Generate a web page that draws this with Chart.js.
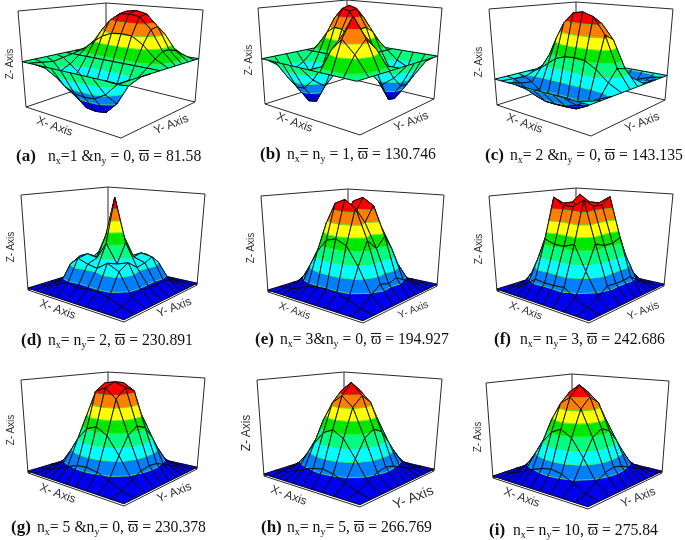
<!DOCTYPE html>
<html><head><meta charset="utf-8">
<script src="https://cdn.jsdelivr.net/npm/chart.js@4"></script>
<style>
html,body{margin:0;padding:0;background:#fff;width:685px;height:540px;overflow:hidden}
#page{position:relative;width:685px;height:540px;overflow:hidden}
canvas{position:absolute;filter:blur(.3px)}
.cap{position:absolute;font-family:"Liberation Serif",serif;font-size:15.7px;color:#111;white-space:nowrap;transform:translateY(-50%);line-height:18px}
.tag{font-weight:bold;font-size:17px}
.cap sub{font-size:10px;line-height:0;vertical-align:-3px}
.bar{position:relative;display:inline-block}
.bar::before{content:"";position:absolute;left:0;right:0;top:3px;height:1px;background:#111}
.ax{position:absolute;font-family:"Liberation Sans",sans-serif;color:#333;white-space:nowrap;transform-origin:center}
</style></head><body><div id="page"></div>
<script>
// grid node positions along both floor edges (0 = front corner)
const gridU=[0,.14,.27,.39,.5,.6,.7,.78,.86,.93,1];
const gridV=[0,.15,.29,.41,.52,.62,.71,.79,.87,.94,1];
// band colours, low to high
const bandColors=['#0000f0','#0080ff','#00ffff','#00ff80','#00e800','#ffff00','#ff8000','#ff0000'];
const contourColor='#40f040';

const zA=[[47,47,47,47,47,47,47,47,47,47,47],
[47,40,35,40,47,54,60,60,57,52,47],
[47,27,14,27,47,67,82,84,75,60,47],
[47,20,2,20,47,75,95,97,85,65,47],
[47,19,0,19,47,76,97,100,87,66,47],
[47,20,1,20,47,75,96,98,86,65,47],
[47,25,9,25,47,70,87,89,79,62,47],
[47,32,21,32,47,63,75,76,69,57,47],
[47,39,34,39,47,55,61,61,58,52,47],
[47,45,43,45,47,49,51,51,50,49,47],
[47,47,47,47,47,47,47,47,47,47,47]];
const zB=[[47,47,47,47,47,47,47,47,47,47,47],
[47,66,79,66,47,31,20,19,26,37,47],
[47,79,100,79,47,21,2,0,12,31,47],
[47,66,79,66,47,31,20,19,26,37,47],
[47,47,47,47,47,47,47,47,47,47,47],
[47,31,21,31,47,63,75,76,69,57,47],
[47,20,2,20,47,75,95,97,85,65,47],
[47,19,0,19,47,76,97,100,87,66,47],
[47,26,12,26,47,69,85,87,77,61,47],
[47,37,31,37,47,57,65,66,61,54,47],
[47,47,47,47,47,47,47,47,47,47,47]];
const zC=[[26,26,26,26,26,26,26,26,26,26,26],
[26,22,20,33,45,42,30,21,20,23,26],
[26,15,10,44,78,71,36,12,10,18,26],
[26,11,4,51,96,87,39,7,4,15,26],
[26,10,3,52,100,90,40,6,3,14,26],
[26,10,4,51,98,88,40,7,4,14,26],
[26,13,8,47,85,77,37,10,8,16,26],
[26,17,13,40,67,61,34,15,13,19,26],
[26,22,20,33,46,43,30,21,20,23,26],
[26,25,24,28,32,31,27,24,24,25,26],
[26,26,26,26,26,26,26,26,26,26,26]];
const zD=[[0,0,0,0,0,0,0,0,0,0,0],
[0,3,8,11,10,9,11,8,3,1,0],
[0,8,30,36,28,30,34,26,8,2,0],
[0,11,36,32,52,34,36,32,10,3,0],
[0,10,28,52,100,56,30,24,8,2,0],
[0,9,30,34,56,36,32,30,8,2,0],
[0,11,34,36,30,32,40,36,10,3,0],
[0,8,26,32,24,30,36,28,8,2,0],
[0,3,8,10,8,8,10,8,3,1,0],
[0,1,2,3,2,2,3,2,1,0,0],
[0,0,0,0,0,0,0,0,0,0,0]];
const zE=[[0,0,0,0,0,0,0,0,0,0,0],
[0,2,11,18,15,18,13,8,3,1,0],
[0,7,36,60,49,60,44,25,10,3,0],
[0,11,55,92,75,92,68,39,16,5,0],
[0,12,60,100,82,100,74,42,17,5,0],
[0,11,57,95,78,95,70,40,16,5,0],
[0,9,43,72,59,72,53,30,12,4,0],
[0,5,27,45,37,45,33,19,8,2,0],
[0,2,12,20,16,20,15,8,3,1,0],
[0,1,4,6,5,6,4,3,1,0,0],
[0,0,0,0,0,0,0,0,0,0,0]];
const zF=[[0,0,0,0,0,0,0,0,0,0,0],
[0,3,9,16,15,15,16,10,4,1,0],
[0,9,31,56,52,52,56,34,15,4,0],
[0,16,56,100,92,92,100,60,26,8,0],
[0,15,52,92,85,85,92,55,24,7,0],
[0,15,52,92,85,85,92,55,24,7,0],
[0,16,56,100,92,92,100,60,26,8,0],
[0,10,34,60,55,55,60,36,16,5,0],
[0,4,15,26,24,24,26,16,7,2,0],
[0,1,4,8,7,7,8,5,2,1,0],
[0,0,0,0,0,0,0,0,0,0,0]];
const zG=[[0,0,0,0,0,0,0,0,0,0,0],
[0,3,9,14,16,15,11,7,3,1,0],
[0,9,30,48,55,51,38,23,10,3,0],
[0,14,48,84,95,90,62,37,16,4,0],
[0,16,55,95,100,98,70,42,18,5,0],
[0,15,51,90,98,92,66,39,17,5,0],
[0,11,38,62,70,66,48,29,13,3,0],
[0,7,23,37,42,39,29,18,8,2,0],
[0,3,10,16,18,17,13,8,3,1,0],
[0,1,3,4,5,5,3,2,1,0,0],
[0,0,0,0,0,0,0,0,0,0,0]];
const zH=[[0,0,0,0,0,0,0,0,0,0,0],
[0,3,8,14,16,14,10,6,3,1,0],
[0,8,28,46,53,48,34,21,10,3,0],
[0,14,46,76,87,78,57,35,16,4,0],
[0,16,53,87,100,90,65,40,18,5,0],
[0,14,48,78,90,81,59,36,16,5,0],
[0,10,34,57,65,59,42,26,12,3,0],
[0,6,21,35,40,36,26,16,7,2,0],
[0,3,10,16,18,16,12,7,3,1,0],
[0,1,3,4,5,5,3,2,1,0,0],
[0,0,0,0,0,0,0,0,0,0,0]];
const zI=[[0,0,0,0,0,0,0,0,0,0,0],
[0,3,10,16,18,16,12,8,4,1,0],
[0,10,31,49,56,51,38,24,11,3,0],
[0,16,49,77,88,80,60,38,18,5,0],
[0,18,56,88,100,91,68,43,20,6,0],
[0,16,51,80,91,83,62,39,18,5,0],
[0,12,38,60,68,62,46,29,14,4,0],
[0,8,24,38,43,39,29,18,9,3,0],
[0,4,11,18,20,18,14,9,4,1,0],
[0,1,3,5,6,5,4,3,1,0,0],
[0,0,0,0,0,0,0,0,0,0,0]];

// panel frames (page pixels): floor L,F,R,B and wall tops TL,TB,TR
const panels=[
{z:zA,box:[0,0,230,150],L:[26,107],F:[121,138],R:[195,102],B:[106,80],TL:[18,11],TB:[106,3],TR:[203,10],
 tag:'(a)',tagX:16,txtX:48,capY:156,nums:'n<sub>x</sub>=1 &amp;n<sub>y</sub> = 0, <span class="bar">ϖ</span> = 81.58',
 X:[55,126,12],Y:[171,124,12],Zl:[9,64,10]},
{z:zB,box:[230,0,230,150],L:[265,104],F:[360,135],R:[434,99],B:[347,78],TL:[258,8],TB:[347,0],TR:[442,8],
 tag:'(b)',tagX:260,txtX:287,capY:154,nums:'n<sub>x</sub>= n<sub>y</sub> = 1, <span class="bar">ϖ</span> = 130.746',
 X:[295,122,12],Y:[411,121,12],Zl:[248,60,10]},
{z:zC,box:[460,0,225,150],L:[497,105],F:[591,136],R:[665,100],B:[576,80],TL:[489,9],TB:[576,2],TR:[673,9],
 tag:'(c)',tagX:485,txtX:510,capY:155,nums:'n<sub>x</sub>= 2 &amp;n<sub>y</sub> = 0, <span class="bar">ϖ</span> = 143.135',
 X:[525,123,12],Y:[642,122,12],Zl:[478,62,10]},
{z:zD,box:[0,180,230,150],L:[28,290],F:[124,322],R:[197,285],B:[108,265],TL:[21,195],TB:[108,187],TR:[205,194],
 tag:'(d)',tagX:21,txtX:48,capY:340,nums:'n<sub>x</sub>= n<sub>y</sub>= 2, <span class="bar">ϖ</span> = 230.891',
 X:[58,309,12],Y:[174,307,12],Zl:[10,247,10]},
{z:zE,box:[230,180,230,150],L:[268,292],F:[363,323],R:[437,286],B:[348,267],TL:[261,196],TB:[348,189],TR:[444,195],
 tag:'(e)',tagX:255,txtX:280,capY:339,nums:'n<sub>x</sub>= 3&amp;n<sub>y</sub> = 0, <span class="bar">ϖ</span> = 194.927',
 X:[295,310,10.5],Y:[413,309,10.5],Zl:[250,248,10]},
{z:zF,box:[460,180,225,150],L:[497,291],F:[589,323],R:[664,286],B:[576,266],TL:[489,196],TB:[576,188],TR:[673,194],
 tag:'(f)',tagX:494,txtX:520,capY:339,nums:'n<sub>x</sub>= n<sub>y</sub>= 3, <span class="bar">ϖ</span> = 242.686',
 X:[526,310,11],Y:[643,310,11],Zl:[478,249,10]},
{z:zG,box:[0,365,230,150],L:[28,473],F:[124,506],R:[197,469],B:[108,449],TL:[21,380],TB:[108,372],TR:[205,378],
 tag:'(g)',tagX:11,txtX:37,capY:527,nums:'n<sub>x</sub>= 5 &amp;n<sub>y</sub>= 0, <span class="bar">ϖ</span> = 230.378',
 X:[58,493,12],Y:[174,492,12],Zl:[10,430,10]},
{z:zH,box:[230,365,230,150],L:[264,476],F:[360,507],R:[434,471],B:[344,450],TL:[257,380],TB:[344,372],TR:[442,379],
 tag:'(h)',tagX:261,txtX:287,capY:527,nums:'n<sub>x</sub>= n<sub>y</sub>= 5, <span class="bar">ϖ</span> = 266.769',
 X:[289,495,12],Y:[413,497,14],Zl:[246,433,12]},
{z:zI,box:[460,365,225,150],L:[493,478],F:[588,509],R:[662,473],B:[572,451],TL:[486,383],TB:[572,374],TR:[669,381],
 tag:'(i)',tagX:489,txtX:513,capY:530,nums:'n<sub>x</sub>= n<sub>y</sub>= 10, <span class="bar">ϖ</span> = 275.84',
 X:[522,497,12],Y:[638,497,12],Zl:[477,437,10]}
];

const NB=bandColors.length, STEP=100/NB;

function clipHalf(poly,L,keepAbove){
  const out=[];
  for(let k=0;k<poly.length;k++){
    const a=poly[k],b=poly[(k+1)%poly.length];
    const ia=keepAbove?a.z>=L:a.z<=L, ib=keepAbove?b.z>=L:b.z<=L;
    if(ia)out.push(a);
    if(ia!==ib){const t=(L-a.z)/(b.z-a.z);out.push({u:a.u+t*(b.u-a.u),v:a.v+t*(b.v-a.v),z:L});}
  }
  return out;
}
function makeProject(p){
  const TF=[p.TL[0]+p.TR[0]-p.TB[0],p.TL[1]+p.TR[1]-p.TB[1]+5];
  const bil=(A,B,C,D,u,v,c)=>(1-u)*(1-v)*A[c]+u*(1-v)*B[c]+(1-u)*v*C[c]+u*v*D[c];
  return (u,v,z)=>{
    const w=.02+.96*z/100;
    const f=c=>(1-w)*bil(p.F,p.L,p.R,p.B,u,v,c)+w*bil(TF,p.TL,p.TR,p.TB,u,v,c);
    return {x:f(0),y:f(1)};
  };
}
function lineDs(pts,color,width){
  return {data:pts,showLine:true,fill:false,borderColor:color,borderWidth:width,pointRadius:0,tension:0,parsing:false};
}
function polyDs(pts,color){
  const d=pts.concat([pts[0]]);
  return {data:d,showLine:true,fill:'shape',backgroundColor:color,borderColor:color,borderWidth:.5,pointRadius:0,tension:0,parsing:false};
}
function buildDatasets(p){
  const ds=[],proj=makeProject(p),Z=p.z,n=gridU.length;
  const fr='#2a2a2a';
  const xy=a=>({x:a[0],y:a[1]});
  [[p.L,p.B],[p.B,p.R],[p.L,p.TL],[p.B,p.TB],[p.R,p.TR],[p.TL,p.TB],[p.TB,p.TR],[p.L,p.F],[p.F,p.R]]
    .forEach(s=>ds.push(lineDs([xy(s[0]),xy(s[1])],fr,1)));
  for(let i=n-2;i>=0;i--)for(let j=n-2;j>=0;j--){
    const q=[{u:gridU[i],v:gridV[j],z:Z[i][j]},{u:gridU[i+1],v:gridV[j],z:Z[i+1][j]},
             {u:gridU[i+1],v:gridV[j+1],z:Z[i+1][j+1]},{u:gridU[i],v:gridV[j+1],z:Z[i][j+1]}];
    const P=o=>proj(o.u,o.v,o.z);
    for(let b=0;b<NB;b++){
      let c=clipHalf(q,b*STEP,true);
      if(c.length)c=clipHalf(c,(b+1)*STEP,false);
      if(c.length>=3)ds.push(polyDs(c.map(P),bandColors[b]));
    }
    for(let b=1;b<NB;b++){
      const L=b*STEP,cr=[];
      for(let k=0;k<4;k++){
        const a=q[k],e=q[(k+1)%4];
        if((a.z<L)!==(e.z<L)){const t=(L-a.z)/(e.z-a.z);cr.push({u:a.u+t*(e.u-a.u),v:a.v+t*(e.v-a.v),z:L});}
      }
      for(let k=0;k+1<cr.length;k+=2)ds.push(lineDs([P(cr[k]),P(cr[k+1])],contourColor,.8));
    }
    ds.push(lineDs(q.concat([q[0]]).map(P),'#0c0c0c',1));
  }
  return ds.reverse();
}
const page=document.getElementById('page');
function addAxisLabel(txt,a,rot){
  const d=document.createElement('div');d.className='ax';d.textContent=txt;
  d.style.fontSize=a[2]+'px';d.style.left=a[0]+'px';d.style.top=a[1]+'px';
  d.style.transform='translate(-50%,-50%) rotate('+rot+'deg)';
  page.appendChild(d);
}
panels.forEach(p=>{
  const [bx,by,bw,bh]=p.box;
  const c=document.createElement('canvas');c.width=bw;c.height=bh;
  c.style.left=bx+'px';c.style.top=by+'px';c.style.width=bw+'px';c.style.height=bh+'px';
  page.appendChild(c);
  new Chart(c,{type:'scatter',data:{datasets:buildDatasets(p)},options:{
    animation:false,responsive:false,events:[],layout:{padding:0},
    plugins:{legend:{display:false},tooltip:{enabled:false},title:{display:false}},
    scales:{x:{type:'linear',display:false,min:bx,max:bx+bw},y:{type:'linear',display:false,min:by,max:by+bh,reverse:true}}
  }});
  addAxisLabel('X- Axis',p.X,20);
  addAxisLabel('Y- Axis',p.Y,-22);
  addAxisLabel('Z- Axis',p.Zl,-90);
  const t=document.createElement('div');t.className='cap tag';t.textContent=p.tag;
  t.style.left=p.tagX+'px';t.style.top=p.capY+'px';page.appendChild(t);
  const s=document.createElement('div');s.className='cap';s.innerHTML=p.nums;
  s.style.left=p.txtX+'px';s.style.top=p.capY+'px';page.appendChild(s);
});
</script></body></html>
